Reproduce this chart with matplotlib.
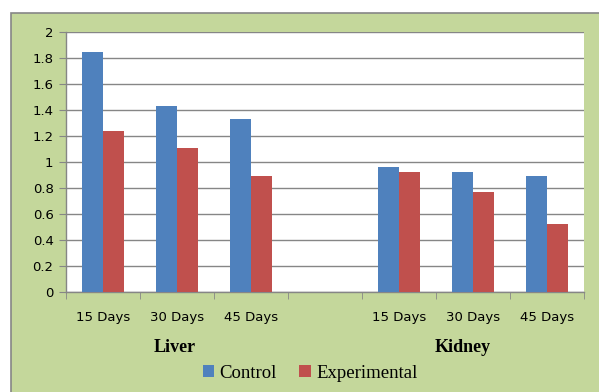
import matplotlib.pyplot as plt
import matplotlib.patches as mpatches
import numpy as np

# data
categories = ['15 Days', '30 Days', '45 Days', '', '15 Days', '30 Days', '45 Days']
control = [1.85, 1.43, 1.33, 0, 0.96, 0.92, 0.89]
experimental = [1.24, 1.11, 0.89, 0, 0.92, 0.77, 0.52]
groups = ['Liver', 'Kidney']
y_ticks = [0, 0.2, 0.4, 0.6, 0.8, 1, 1.2, 1.4, 1.6, 1.8, 2]

green = '#C4D79B'
blue = '#4F81BD'
red = '#C0504D'
grey = '#868686'

fig = plt.figure(figsize=(5.99, 3.92), dpi=100)
fig.patch.set_facecolor('white')

# green chart frame (top and left border only visible)
frame = mpatches.Rectangle((11 / 599, -0.1), 1.2, 1.1 - 13 / 392,
                           transform=fig.transFigure, facecolor=green,
                           edgecolor=grey, linewidth=1.2, zorder=-10)
fig.patches.append(frame)

ax = fig.add_axes([66 / 599, 1 - 292 / 392, (584 - 66) / 599, (292 - 32) / 392])
ax.set_facecolor('white')

x = np.arange(len(categories))
w = 0.28
ax.bar(x - w / 2, control, w, color=blue, label='Control', zorder=3)
ax.bar(x + w / 2, experimental, w, color=red, label='Experimental', zorder=3)

ax.set_xlim(-0.5, len(categories) - 0.5)
ax.set_ylim(0, 2)
ax.set_yticks(y_ticks)
ax.set_yticklabels([f'{v:g}' for v in y_ticks], fontsize=9.5, family='DejaVu Sans')
ax.yaxis.grid(True, color=grey, linewidth=1, zorder=0)
ax.tick_params(axis='y', length=5, color=grey, pad=4)

ax.set_xticks(x)
ax.set_xticklabels(categories, fontsize=9.5, family='DejaVu Sans')
ax.tick_params(axis='x', which='major', length=0, pad=14)
ax.set_xticks(np.arange(-0.5, len(categories), 1), minor=True)
ax.tick_params(axis='x', which='minor', length=5, color=grey)

for s in ['top', 'right']:
    ax.spines[s].set_visible(False)
for s in ['left', 'bottom']:
    ax.spines[s].set_color(grey)
    ax.spines[s].set_linewidth(1)

# group labels
ax.text(0.97, -56 / 260, groups[0], transform=ax.get_xaxis_transform(),
        ha='center', va='center', fontsize=13, fontweight='bold', family='Liberation Serif')
ax.text(4.86, -56 / 260, groups[1], transform=ax.get_xaxis_transform(),
        ha='center', va='center', fontsize=13, fontweight='bold', family='Liberation Serif')

fig.legend(loc='center', bbox_to_anchor=(310 / 599, 1 - 373 / 392), ncol=2,
           frameon=False, prop={'family': 'Liberation Serif', 'size': 13.5},
           handlelength=0.6, handleheight=0.6, handletextpad=0.3, columnspacing=1.2)

fig.savefig('out.png', dpi=100, facecolor=fig.get_facecolor())
